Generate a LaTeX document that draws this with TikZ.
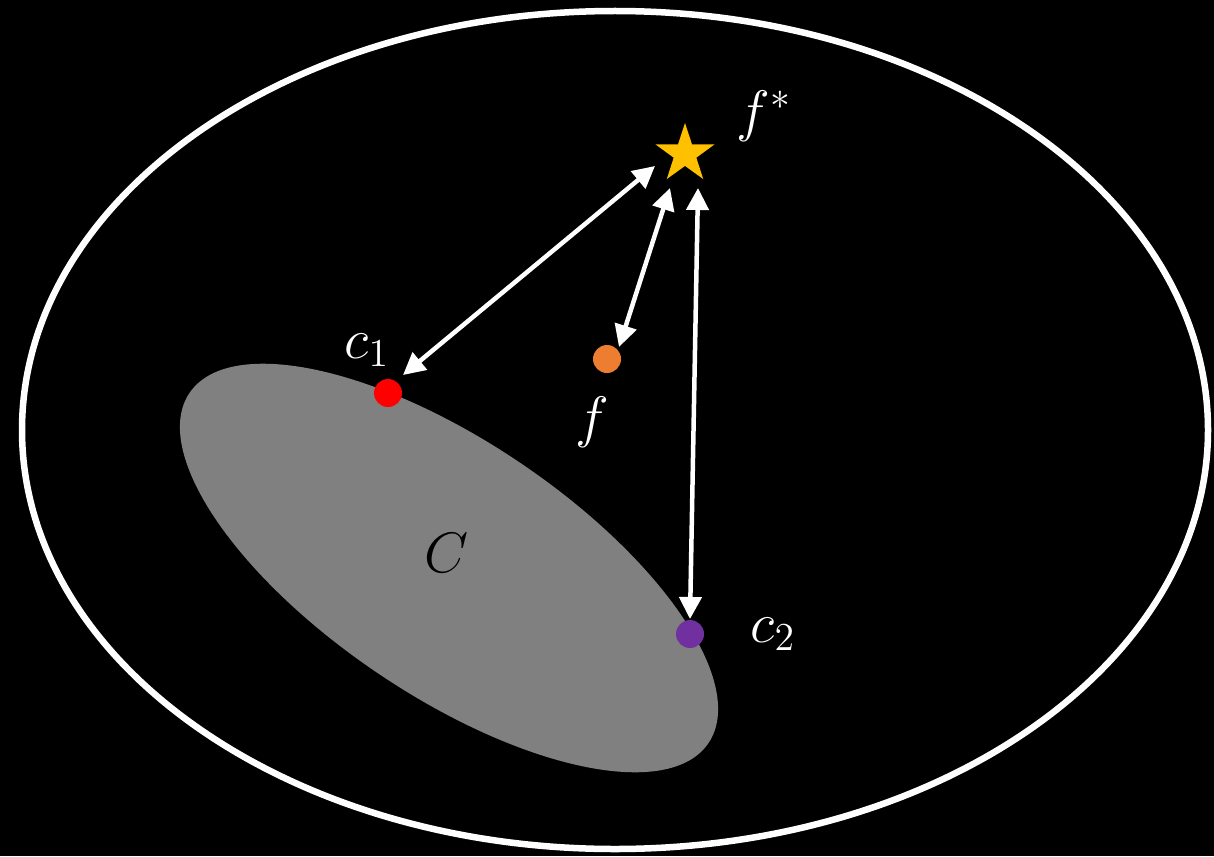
\documentclass[tikz,border=0pt]{standalone}
\usetikzlibrary{shapes.geometric,arrows.meta}
\definecolor{cgray}{RGB}{128,128,128}
\definecolor{cred}{RGB}{255,0,0}
\definecolor{corange}{RGB}{237,125,49}
\definecolor{cpurple}{RGB}{112,48,160}
\definecolor{cgold}{RGB}{255,192,0}
\begin{document}
\begin{tikzpicture}[x=1pt,y=-1pt,
  dot/.style={circle,inner sep=0pt,minimum size=28pt},
  lbl/.style={text=white,inner sep=0pt,font=\huge,transform shape,scale=2.75},
  conn/.style={white,line width=4.5pt,{Triangle[length=22pt,width=22pt]}-{Triangle[length=22pt,width=22pt]}}]
\useasboundingbox (0,0) rectangle (1214,856);
\fill[black] (0,0) rectangle (1214,856);
\draw[white,line width=6.5pt] (615,430) ellipse [x radius=593pt,y radius=419pt];
\fill[cgray,rotate around={-34:(449,568)}] (449,568) ellipse [x radius=313pt,y radius=127pt];
\node[dot,fill=cred] (c1) at (388,393) {};
\node[dot,fill=corange] (f) at (607,359) {};
\node[dot,fill=cpurple] (c2) at (690,634) {};
\node[star,star points=5,star point ratio=2.6,minimum size=62pt,inner sep=0pt,fill=cgold] (fs) at (685,154) {};
\coordinate (a1s) at (655,166);
\coordinate (a1e) at (403,375);
\coordinate (a2s) at (670,188);
\coordinate (a2e) at (619,347);
\coordinate (a3s) at (698,188);
\coordinate (a3e) at (690,619);
\draw[conn] (a1e) -- (a1s);
\draw[conn] (a2e) -- (a2s);
\draw[conn] (a3e) -- (a3s);
\node[lbl] (lc1) at (367,350) {$c_1$};
\node[lbl] (lf) at (592,422) {$f$};
\node[lbl] (lfs) at (764,116) {$f^*$};
\node[lbl] (lc2) at (773,634) {$c_2$};
\node[lbl,text=black] (lC) at (447,553) {$C$};
\end{tikzpicture}
\end{document}
